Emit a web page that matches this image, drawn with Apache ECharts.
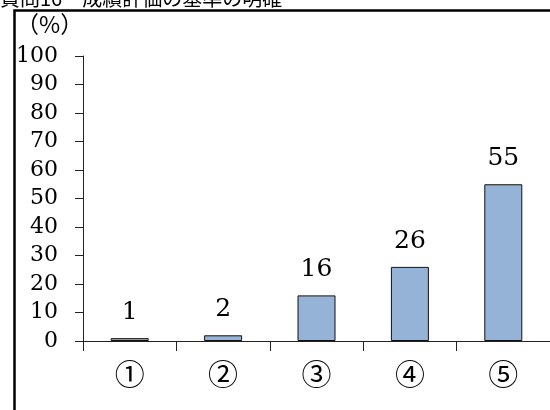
<!DOCTYPE html>
<html><head><meta charset="utf-8">
<script src="https://cdn.jsdelivr.net/npm/echarts@6/dist/echarts.min.js"></script>
<style>html,body{margin:0;padding:0;background:#fff;}#c{width:550px;height:410px;}</style>
</head><body><div id="c"></div>
<script>
const titleText = '質問16　成績評価の基準の明確';
const unitText = '（%）';
const categories = ['①', '②', '③', '④', '⑤'];
const values = [1, 2, 16, 26, 55];
const yMin = 0, yMax = 100, yInterval = 10;

const chart = echarts.init(document.getElementById('c'), null, {renderer: 'canvas'});
chart.setOption({
  animation: false,
  backgroundColor: '#fff',
  graphic: [
    {type: 'rect', left: 12, top: 8, shape: {width: 560, height: 420}, style: {fill: 'none', stroke: '#000', lineWidth: 2.5}},
    {type: 'text', left: 0, top: -12, style: {text: titleText, font: '20px "Noto Sans CJK JP"', fill: '#000'}},
    {type: 'text', left: 16, top: 13, style: {text: unitText, font: '23px "Noto Sans CJK JP"', fill: '#000'}}
  ],
  grid: {left: 83, top: 56, bottom: 69, right: -8, containLabel: false},
  xAxis: {
    type: 'category', data: categories,
    axisLine: {lineStyle: {color: '#222', width: 1}},
    axisTick: {show: true, length: 10, lineStyle: {color: '#222'}},
    axisLabel: {color: '#000', fontSize: 30, fontFamily: '"Noto Sans CJK JP"', margin: 18}
  },
  yAxis: {
    type: 'value', min: yMin, max: yMax, interval: yInterval,
    axisLine: {show: true, lineStyle: {color: '#222', width: 1}},
    axisTick: {show: true, length: 8, lineStyle: {color: '#222'}},
    splitLine: {show: false},
    axisLabel: {color: '#000', fontSize: 22, fontFamily: '"DejaVu Serif"', margin: 25}
  },
  series: [{
    type: 'bar', data: values, barWidth: 38,
    itemStyle: {color: '#95b3d7', borderColor: '#111', borderWidth: 1},
    label: {show: true, position: 'top', distance: 13, color: '#000', fontSize: 25, fontFamily: '"DejaVu Serif"'}
  }]
});
</script></body></html>
